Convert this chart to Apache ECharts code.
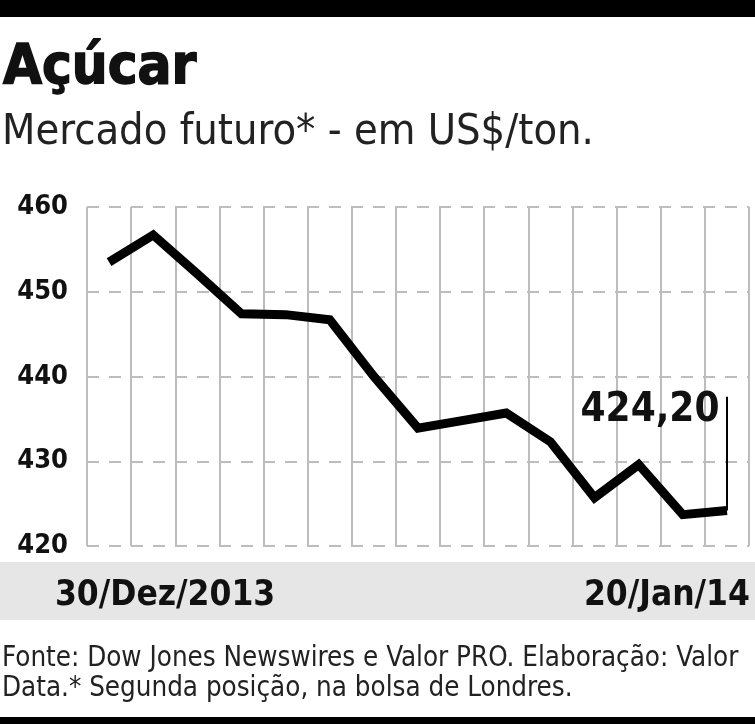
<!DOCTYPE html>
<html>
<head>
<meta charset="utf-8">
<script src="https://cdn.jsdelivr.net/npm/echarts@6/dist/echarts.min.js"></script>
<style>
  html, body { margin: 0; padding: 0; background: #fff; }
  #chart { width: 755px; height: 724px; }
</style>
</head>
<body>
<div id="chart"></div>
<script>
// pregões de 30/12/2013 a 20/01/2014
const days = ['30/12', '31/12', '02/01', '03/01', '06/01', '07/01', '08/01', '09/01',
              '10/01', '13/01', '14/01', '15/01', '16/01', '17/01', '20/01'];
const prices = [453.5, 456.7, 452.1, 447.4, 447.3, 446.7, 440.0, 433.9,
                434.8, 435.7, 432.3, 425.7, 429.6, 423.7, 424.2];
const xTickLabels = ['30/Dez/2013', '20/Jan/14'];
const yTicks = [420, 430, 440, 450, 460];
const calloutTop = 437.6;

const font = '"DejaVu Sans Condensed", "Liberation Sans Narrow", "DejaVu Sans", sans-serif';
const last = prices.length - 1;

const chart = echarts.init(document.getElementById('chart'));

const option = {
    backgroundColor: '#fff',
    animation: false,
    title: [
        {
            text: 'Açúcar', left: 3, top: 40, padding: 0,
            textStyle: {
                fontFamily: font, fontSize: 56, fontWeight: 'bold', color: '#111',
                textBorderColor: '#111', textBorderWidth: 1.5
            }
        },
        {
            text: 'Mercado futuro* - em US$/ton.', left: 2, top: 111, padding: 0,
            textStyle: {fontFamily: font, fontSize: 43, fontWeight: 'normal', color: '#222'}
        },
        {
            text: 'Fonte: Dow Jones Newswires e Valor PRO. Elaboração: Valor\nData.* Segunda posição, na bolsa de Londres.',
            left: 2, top: 644, padding: 0,
            textStyle: {fontFamily: font, fontSize: 27.5, lineHeight: 30, fontWeight: 'normal', color: '#222'}
        }
    ],
    graphic: [
        {type: 'rect', z: -10, shape: {x: 0, y: 0, width: 755, height: 17}, style: {fill: '#000'}},
        {type: 'rect', z: -10, shape: {x: 0, y: 562, width: 755, height: 58}, style: {fill: '#e6e6e6'}},
        {type: 'rect', z: -10, shape: {x: 0, y: 717, width: 755, height: 7}, style: {fill: '#000'}}
    ],
    grid: {left: 87, right: 6, top: 207, bottom: 178},
    xAxis: {
        type: 'category',
        data: days,
        boundaryGap: true,
        axisLine: {show: false},
        axisTick: {show: false},
        splitLine: {show: true, interval: 0, lineStyle: {color: '#bdbdbd', width: 2}},
        axisLabel: {
            interval: function (i) { return i === 0 || i === last; },
            margin: 32,
            formatter: function (v, i) {
                return i === 0 ? '{a|' + xTickLabels[0] + '}' : '{b|' + xTickLabels[1] + '}';
            },
            rich: {
                a: {fontFamily: font, fontSize: 35, fontWeight: 'bold', color: '#111', padding: [0, 0, 0, 112]},
                b: {fontFamily: font, fontSize: 35, fontWeight: 'bold', color: '#111', padding: [0, 120, 0, 0]}
            }
        }
    },
    yAxis: {
        type: 'value',
        min: yTicks[0],
        max: yTicks[yTicks.length - 1],
        interval: yTicks[1] - yTicks[0],
        axisLine: {show: false},
        axisTick: {show: false},
        axisLabel: {margin: 19, fontFamily: font, fontSize: 27, fontWeight: 'bold', color: '#111'},
        splitLine: {show: true, lineStyle: {color: '#bdbdbd', width: 2, type: [12, 10]}}
    },
    series: [
        {
            type: 'line',
            data: prices,
            symbol: 'none',
            lineStyle: {color: '#000', width: 9, join: 'miter', cap: 'butt'},
            markLine: {
                silent: true,
                symbol: ['none', 'none'],
                label: {show: false},
                lineStyle: {color: '#000', width: 2, type: 'solid'},
                data: [[{coord: [days[last], prices[last]]}, {coord: [days[last], calloutTop]}]]
            },
            markPoint: {
                silent: true,
                symbol: 'circle',
                symbolSize: 1,
                itemStyle: {color: 'rgba(0,0,0,0)'},
                label: {
                    show: true,
                    position: [-7, -99],
                    align: 'right',
                    verticalAlign: 'middle',
                    fontFamily: font,
                    fontSize: 40,
                    fontWeight: 'bold',
                    color: '#111',
                    formatter: function (p) { return p.value.toFixed(2).replace('.', ','); }
                },
                data: [{coord: [days[last], prices[last]], value: prices[last]}]
            }
        }
    ]
};

option && chart.setOption(option);
</script>
</body>
</html>
